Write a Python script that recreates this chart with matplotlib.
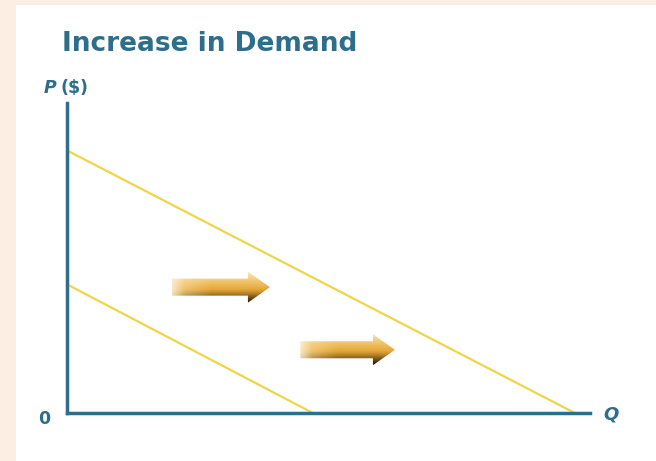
import matplotlib
matplotlib.use("Agg")
import matplotlib.pyplot as plt
import matplotlib.patches as patches
import numpy as np

# demand curves: price intercept and quantity intercept
d1_price = [4.15, 0.0]
d1_qty = [0.0, 4.7]
d2_price = [8.47, 0.0]
d2_qty = [0.0, 9.71]

# shift arrows: (q start, q end, price level)
shift_arrows = [(2.0, 3.88, 4.06), (4.46, 6.27, 2.04)]

axis_col = '#2d6e8d'
curve_col = '#f0d44a'
font = 'DejaVu Sans'

W, H = 656, 461
fig = plt.figure(figsize=(W / 100, H / 100), dpi=100)
fig.patch.set_facecolor('#fdeee3')
bg = patches.Rectangle((16 / W, 0), 1, (H - 5) / H, transform=fig.transFigure,
                       facecolor='white', edgecolor='none', zorder=-5)
fig.patches.append(bg)

ax = fig.add_axes([67 / W, (H - 413) / H, 523 / W, 310 / H])
ax.set_zorder(1)
ax.patch.set_alpha(0)
for s in ['top', 'right']:
    ax.spines[s].set_visible(False)
for s in ['left', 'bottom']:
    ax.spines[s].set_color(axis_col)
    ax.spines[s].set_linewidth(2.5)
ax.set_xticks([])
ax.set_yticks([])

ax.plot(d1_qty, d1_price, color=curve_col, lw=1.6, solid_capstyle='butt')
ax.plot(d2_qty, d2_price, color=curve_col, lw=1.6, solid_capstyle='butt')

# gradient image for the arrows: light tan top, gold middle, dark brown bottom edge
gw, gh = 200, 60
t = np.linspace(0, 1, gw)[:, None].T
v = np.linspace(0, 1, gh)[:, None]  # 0 = top, 1 = bottom
light = np.array([0.99, 0.90, 0.70])
gold = np.array([0.90, 0.66, 0.22])
dark = np.array([0.20, 0.13, 0.04])
img = np.zeros((gh, gw, 4))
a = np.clip(v / 0.55, 0, 1)
b = np.clip((v - 0.55) / 0.4, 0, 1) ** 1.2
for k in range(3):
    col = light[k] + (gold[k] - light[k]) * a
    col = col + (dark[k] - col) * b
    # left end fades towards a pale tint
    fade = np.clip(1 - t * 2.5, 0, 1) * 0.6
    img[:, :, k] = col * (1 - fade) + light[k] * fade
img[:, :, 3] = np.clip(0.5 + t * 4, 0, 1)

py = 10 / 310  # data units per pixel (vertical)
px = 10 / 523  # data units per pixel (horizontal)
for q0, q1, p in shift_arrows:
    sh = 8.5 * py
    hh = 15.5 * py
    hl = 22 * px
    verts = [(q0, p + sh), (q1 - hl, p + sh), (q1 - hl, p + hh), (q1, p),
             (q1 - hl, p - hh), (q1 - hl, p - sh), (q0, p - sh)]
    poly = patches.Polygon(verts, closed=True, facecolor='none', edgecolor='none')
    ax.add_patch(poly)
    im = ax.imshow(img, extent=[q0, q1, p - hh, p + hh], aspect='auto', zorder=3,
                   interpolation='bilinear')
    im.set_clip_path(poly)

ax.set_xlim(0, 10)
ax.set_ylim(0, 10)

fig.text(62 / W, 1 - 44 / H, 'Increase in Demand', fontsize=19, fontweight='bold',
         color=axis_col, family=font, va='center', ha='left')
fig.text(44 / W, 1 - 88 / H, 'P', fontsize=12.5, fontweight='bold', fontstyle='italic',
         color=axis_col, family=font, va='center', ha='left')
fig.text(60 / W, 1 - 88 / H, '($)', fontsize=12.5, fontweight='bold',
         color=axis_col, family=font, va='center', ha='left')
fig.text(38 / W, 1 - 419 / H, '0', fontsize=12.5, fontweight='bold',
         color=axis_col, family=font, va='center', ha='left')
fig.text(603 / W, 1 - 414 / H, 'Q', fontsize=13, fontweight='bold', fontstyle='italic',
         color=axis_col, family=font, va='center', ha='left')

fig.savefig('out.png', dpi=100, facecolor=fig.get_facecolor())
